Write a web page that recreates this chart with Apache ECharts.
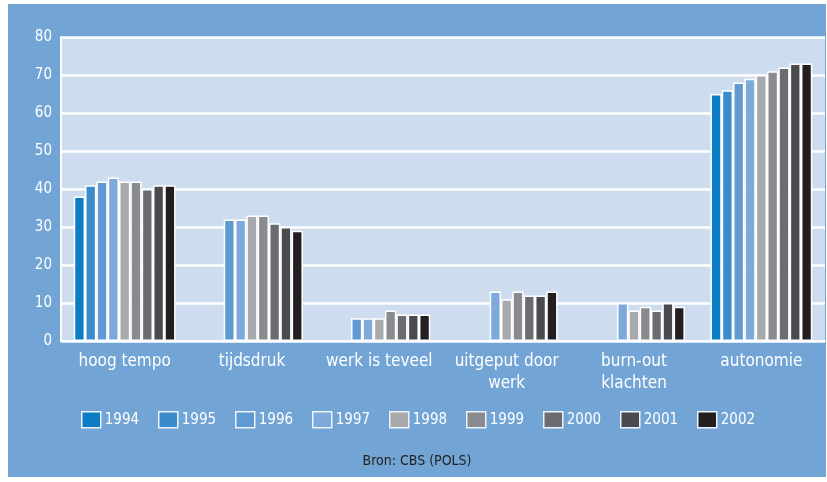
<!DOCTYPE html>
<html>
<head>
<meta charset="utf-8">
<style>
  html, body { margin: 0; padding: 0; background: #fff; }
  #chart { position: absolute; left: 8px; top: 4px; width: 818px; height: 473px; background: #72a5d5; }
</style>
<script src="https://cdn.jsdelivr.net/npm/echarts@6/dist/echarts.min.js"></script>
</head>
<body>
<div id="chart"></div>
<script>
// Categories (x axis)
const categories = ['hoog tempo', 'tijdsdruk', 'werk is teveel', 'uitgeput door\nwerk', 'burn-out\nklachten', 'autonomie'];
const years = ['1994', '1995', '1996', '1997', '1998', '1999', '2000', '2001', '2002'];
const yearColors = ['#0a7dc5', '#3a8bcc', '#5f9ad2', '#7eaadb', '#a8a9ad', '#8a8b8f', '#6b6c70', '#4a4b4e', '#231f20'];

// Values per year, one per category (null = not measured)
const v1994 = [38, null, null, null, null, 65];
const v1995 = [41, null, null, null, null, 66];
const v1996 = [42, 32, 6, null, null, 68];
const v1997 = [43, 32, 6, 13, 10, 69];
const v1998 = [42, 33, 6, 11, 8, 70];
const v1999 = [42, 33, 8, 13, 9, 71];
const v2000 = [40, 31, 7, 12, 8, 72];
const v2001 = [41, 30, 7, 12, 10, 73];
const v2002 = [41, 29, 7, 13, 9, 73];
const values = [v1994, v1995, v1996, v1997, v1998, v1999, v2000, v2001, v2002];

const font = "'Liberation Sans Narrow', 'DejaVu Sans Condensed', sans-serif";

const chart = echarts.init(document.getElementById('chart'), null, { renderer: 'canvas' });

// one legend per year so each entry sits on a fixed pitch
const legends = years.map((y, i) => ({
  data: [y],
  left: 73 + i * 77,
  top: 407,
  padding: 0,
  icon: 'rect',
  itemWidth: 19,
  itemHeight: 16,
  itemGap: 0,
  itemStyle: { borderColor: '#eef3fa', borderWidth: 1.5 },
  textStyle: { color: '#fff', fontSize: 15, fontFamily: font, padding: [0, 0, 0, -1] },
  selectedMode: false
}));

chart.setOption({
  animation: false,
  textStyle: { fontFamily: font },
  legend: legends,
  grid: { left: 53, right: 1, top: 33, bottom: 136, show: true, backgroundColor: '#cddcee', borderWidth: 0 },
  xAxis: {
    type: 'category',
    data: categories,
    axisLine: { lineStyle: { color: '#fff', width: 2 } },
    axisTick: { show: false },
    axisLabel: { color: '#fff', fontSize: 17, fontFamily: font, margin: 10, lineHeight: 22, interval: 0 }
  },
  yAxis: {
    type: 'value',
    min: 0,
    max: 80,
    interval: 10,
    axisLine: { show: true, lineStyle: { color: '#fff', width: 2 } },
    axisTick: { show: false },
    splitLine: { lineStyle: { color: '#fff', width: 2.5 } },
    axisLabel: { color: '#fff', fontSize: 15, fontFamily: font, margin: 9 }
  },
  graphic: [{
    type: 'text',
    left: 'center',
    top: 450,
    style: { text: 'Bron: CBS (POLS)', fill: '#222', fontSize: 14, fontFamily: font }
  }],
  series: years.map((y, i) => ({
    name: y,
    type: 'bar',
    data: values[i],
    barGap: '0%',
    barCategoryGap: '20%',
    itemStyle: { color: yearColors[i], borderColor: '#fff', borderWidth: 1.5 }
  }))
});
</script>
</body>
</html>
